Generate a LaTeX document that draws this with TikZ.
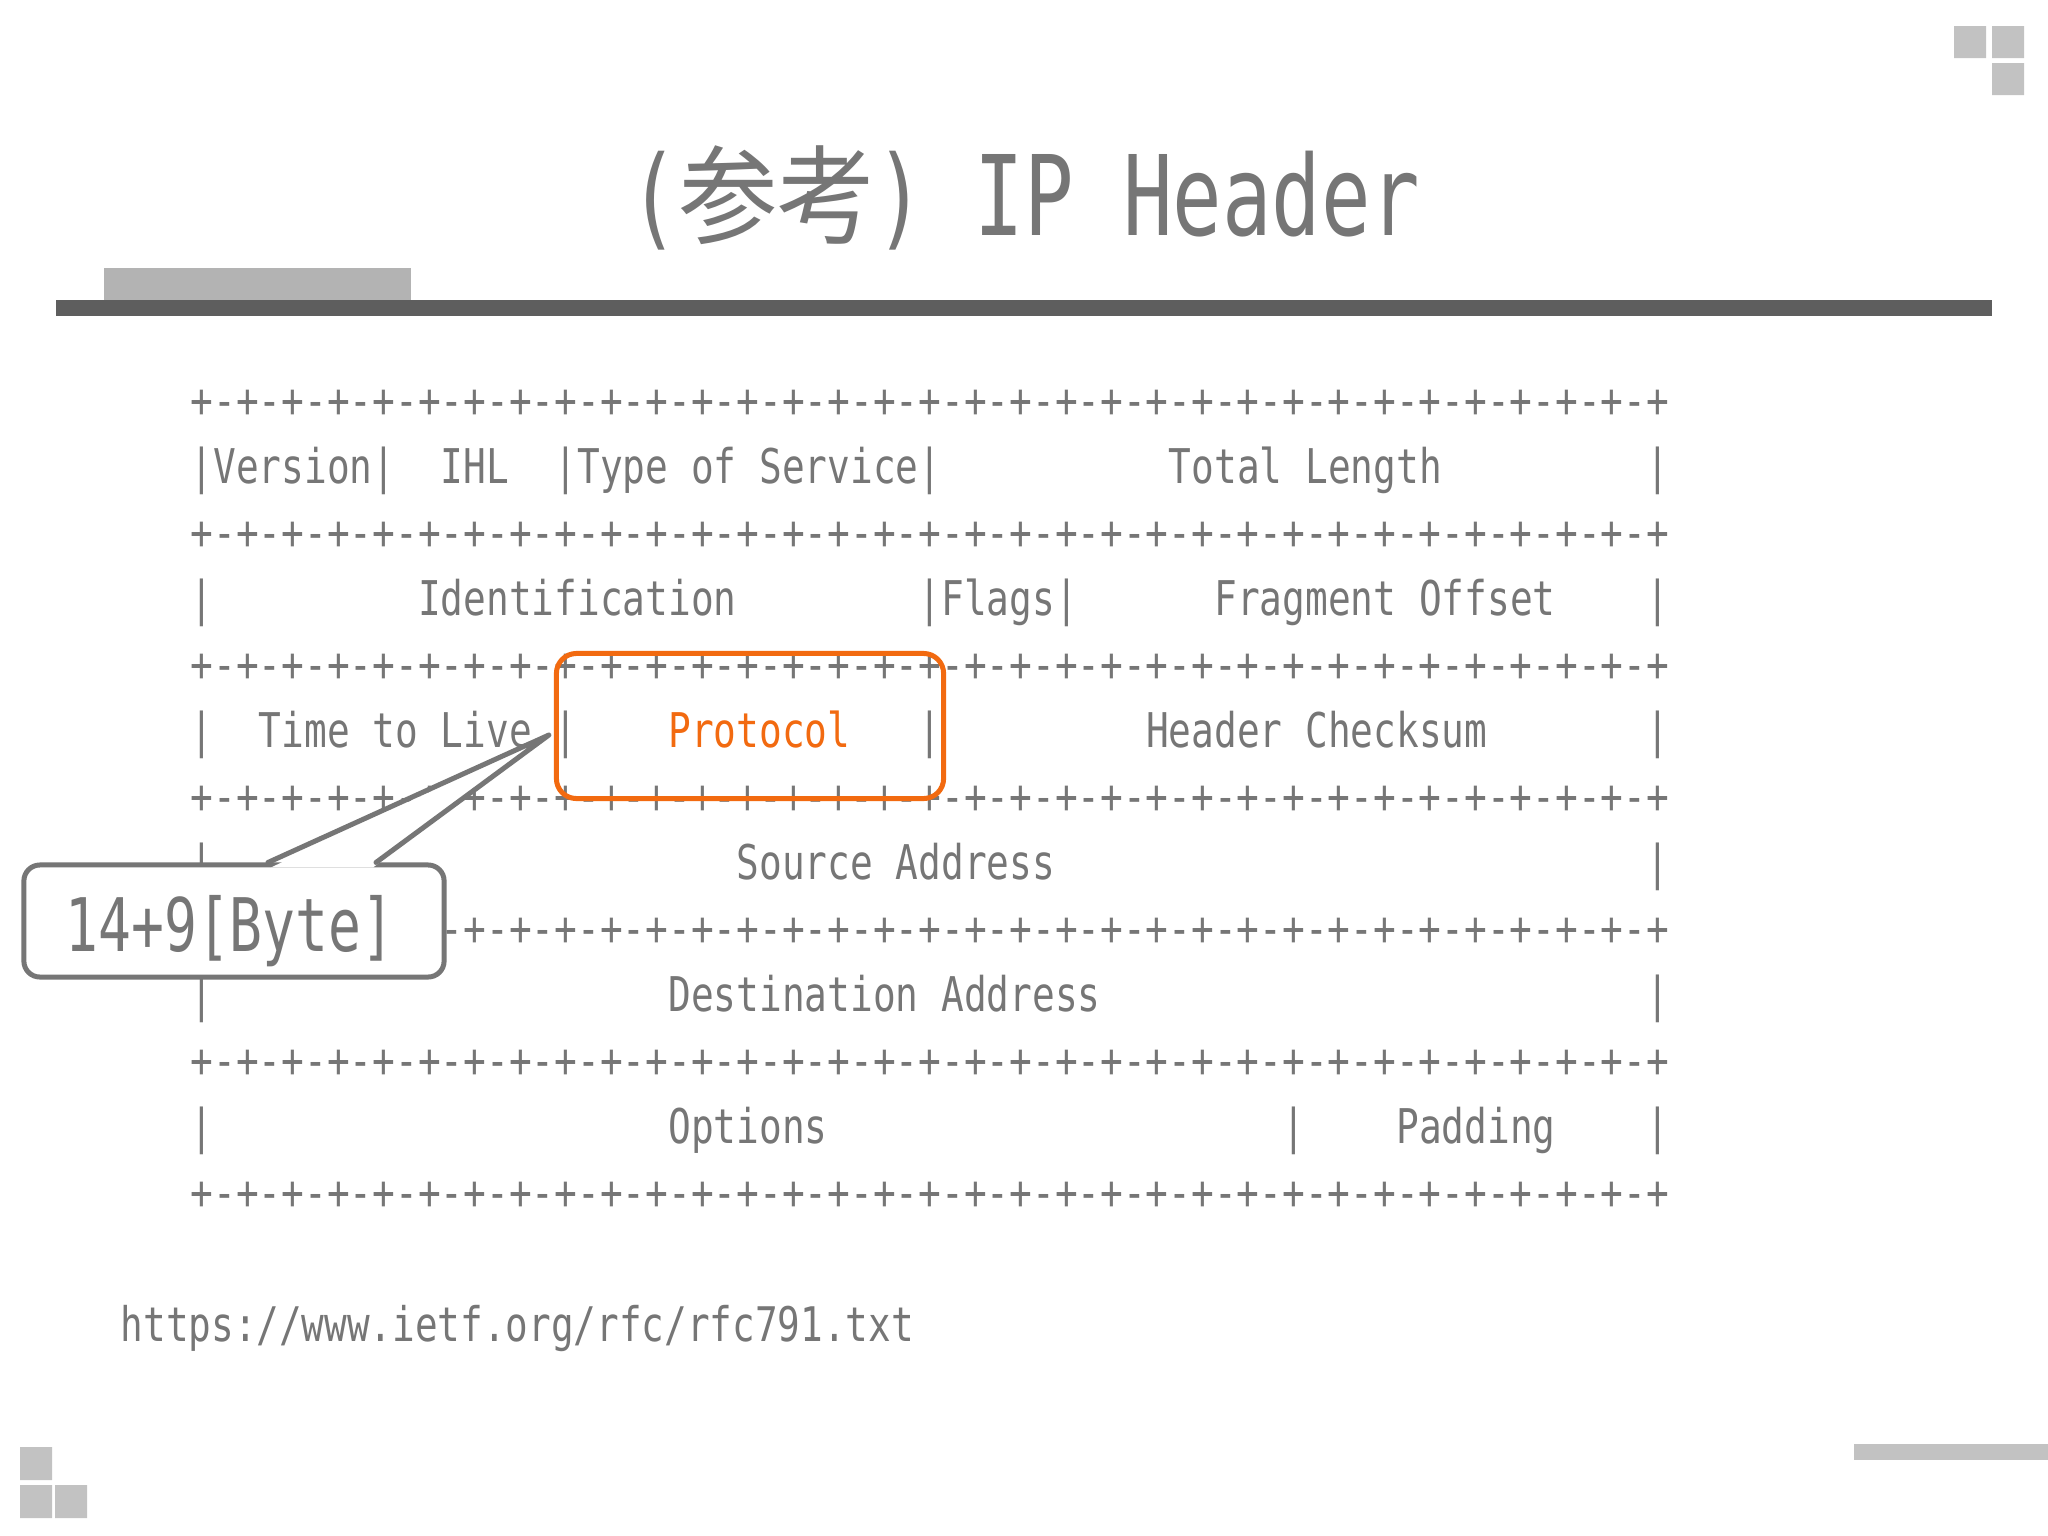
\documentclass[tikz,border=0pt]{standalone}
\usepackage{fontspec}
\usetikzlibrary{calc}
\newfontfamily\rfcmono[FakeStretch=0.79]{DejaVu Sans Mono}
\newfontfamily\narrowmono[FakeStretch=0.74]{DejaVu Sans Mono}
\newfontfamily\cjk[FakeStretch=0.92]{Noto Sans CJK JP}
\definecolor{inkgray}{HTML}{767676}
\definecolor{bargray}{HTML}{5E5E5E}
\definecolor{tabgray}{HTML}{B3B3B3}
\definecolor{tilegray}{HTML}{C2C2C2}
\definecolor{protoorange}{HTML}{F26A10}
\newcommand{\rowBorder}{+-+-+-+-+-+-+-+-+-+-+-+-+-+-+-+-+-+-+-+-+-+-+-+-+-+-+-+-+-+-+-+-+}
\begingroup\obeyspaces%
\gdef\rowVer{|Version|  IHL  |Type of Service|          Total Length         |}%
\gdef\rowIdent{|         Identification        |Flags|      Fragment Offset    |}%
\gdef\rowTtl{|  Time to Live |    \textcolor{protoorange}{Protocol}   |         Header Checksum       |}%
\gdef\rowSrc{|                       Source Address                          |}%
\gdef\rowDst{|                    Destination Address                        |}%
\gdef\rowOpt{|                    Options                    |    Padding    |}%
\endgroup
\begin{document}
\begin{tikzpicture}[x=0.01cm,y=-0.01cm,line join=round,line cap=round,
	rfc/.style={anchor=base west,inner sep=0,text=inkgray,font=\rfcmono\fontsize{13.6}{16}\selectfont},
	protobox/.style={draw=protoorange,line width=0.05cm,rounded corners=0.2cm,minimum width=3.87cm,minimum height=1.45cm},
	callout/.style={draw=inkgray,fill=white,line width=0.05cm,rounded corners=0.16cm,minimum width=4.2cm,minimum height=1.12cm},
	calltext/.style={inner sep=0,text=inkgray,font=\narrowmono\fontsize{21}{24}\selectfont}]
		\fill[white] (0,0) rectangle (2048,1536);
		\fill[tilegray] (1954,26) rectangle +(32,32) (1992,26) rectangle +(32,32) (1992,63) rectangle +(32,32);
		\fill[tilegray] (20,1447) rectangle +(32,33) (20,1485) rectangle +(32,33) (55,1485) rectangle +(32,33);
		\fill[tilegray] (1854,1444) rectangle (2048,1460);
		\fill[tabgray] (104,268) rectangle (411,300);
		\fill[bargray] (56,300) rectangle (1992,316);
		\node (title) [anchor=base,inner sep=0,text=inkgray] at (1025,235) {\narrowmono\fontsize{31.6}{38}\selectfont(\cjk\fontsize{30.4}{38}\selectfont 参考\narrowmono\fontsize{31.6}{38}\selectfont) IP Header};
		\foreach \txt [count=\k from 0] in {\rowBorder,\rowVer,\rowBorder,\rowIdent,\rowBorder,\rowTtl,\rowBorder,\rowSrc,\rowBorder,\rowDst,\rowBorder,\rowOpt,\rowBorder}
			\node[rfc] (r\k) at (190,{417+66*\k}) {\txt};
		\node[protobox] (pbox) at (750,726) {};
		\node[callout] (bytes) at (234,921) {};
		\node[calltext] (bytestxt) at ($(bytes.center)+(-4,10)$) {14+9[Byte]};
		\coordinate (p1) at ($(bytes.north)+(34,0)$);
		\coordinate (p2) at ($(bytes.north)+(142,0)$);
		\coordinate (tip) at ($(pbox.west)+(-5,9)$);
		\fill[white] ($(p1)+(3,5)$)--(tip)--($(p2)+(-3,5)$)--cycle;
		\draw[inkgray,line width=0.05cm] (p1)--(tip)--(p2);
		\node[rfc,font=\rfcmono\fontsize{13.55}{16}\selectfont] (url) at (120,1341) {https://www.ietf.org/rfc/rfc791.txt};
\end{tikzpicture}
\end{document}
